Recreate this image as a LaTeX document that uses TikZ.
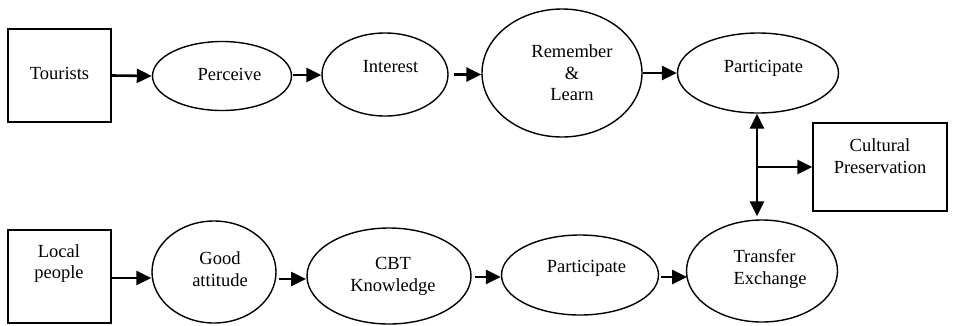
\documentclass[tikz,border=0pt]{standalone}
\usepackage{fontspec}
\setmainfont{Liberation Serif}
\usetikzlibrary{shapes.geometric,arrows.meta}
\tikzset{
  boxnode/.style={draw, rectangle, line width=1.4pt, inner sep=0pt},
  oval/.style={draw, ellipse, line width=1.4pt, inner sep=0pt},
  txt/.style={font=\fontsize{18.5}{21.5}\selectfont, align=center, inner sep=0pt},
  arr/.style={line width=2.6pt, -{Triangle[length=15pt,width=14pt]}},
  arrtwo/.style={line width=2.6pt, {Triangle[length=15pt,width=14pt]}-{Triangle[length=15pt,width=14pt]}}
}
\begin{document}
\begin{tikzpicture}[x=1pt,y=-1pt]
\useasboundingbox (0,0) rectangle (953,325);
% shapes
\node[boxnode, minimum width=103pt, minimum height=93pt] (tour) at (59.5,75.5) {};
\node[oval, minimum width=139pt, minimum height=69pt] (perc) at (222,76) {};
\node[oval, minimum width=126pt, minimum height=83pt] (inte) at (385,74.5) {};
\node[oval, minimum width=160pt, minimum height=128pt] (reme) at (562,73) {};
\node[oval, minimum width=161pt, minimum height=80pt] (parA) at (758,73) {};
\node[boxnode, minimum width=134pt, minimum height=88pt] (cult) at (880,167) {};
\node[boxnode, minimum width=103pt, minimum height=93pt] (loc) at (59.5,276.5) {};
\node[oval, minimum width=124pt, minimum height=102pt] (good) at (214,272) {};
\node[oval, minimum width=164pt, minimum height=96pt] (cbt) at (389,276) {};
\node[oval, minimum width=157pt, minimum height=80pt] (parB) at (580,275) {};
\node[oval, minimum width=151pt, minimum height=102pt] (trans) at (762,271) {};
% texts
\node[txt] (ttour) at (59.5,73) {Tourists};
\node[txt] (tperc) at (229.5,74) {Perceive};
\node[txt] (tinte) at (390.5,67) {Interest};
\node[txt] (treme) at (572,73) {Remember\\\&\\Learn};
\node[txt] (tparA) at (763.5,68) {Participate};
\node[txt] (tcult) at (880,156) {Cultural\\Preservation};
\node[txt] (tloc) at (59,263.5) {Local\\people};
\node[txt] (tgood) at (220,269) {Good\\attitude};
\node[txt] (tcbt) at (393,276.5) {CBT\\Knowledge};
\node[txt] (tparB) at (586.5,268) {Participate};
\node[txt, align=left] (ttrans) at (770,269) {Transfer\\Exchange};
% connectors
\coordinate (j) at (757,167);
\draw[arr] (tour.east) -- (perc.west);
\draw[arr, shorten <=1pt] (perc.east |- 0,75) -- (inte.west |- 0,75);
\draw[arr, shorten <=5pt] (inte.east) -- (reme.west |- inte.east);
\draw[arr] (reme.east) -- (parA.west);
\draw[arrtwo, shorten >=3pt] (j |- parA.south) -- (j |- trans.north);
\draw[arr] (j) -- (cult.west);
\draw[arr] (loc.east |- 0,278) -- (good.west |- 0,278);
\draw[arr, shorten <=2pt] (good.east |- 0,279) -- (306,279);
\draw[arr, shorten <=3pt] (cbt.east |- 0,277) -- (parB.west |- 0,277);
\draw[arr, shorten <=2pt] (parB.east |- 0,277) -- (687,277);
\end{tikzpicture}
\end{document}
